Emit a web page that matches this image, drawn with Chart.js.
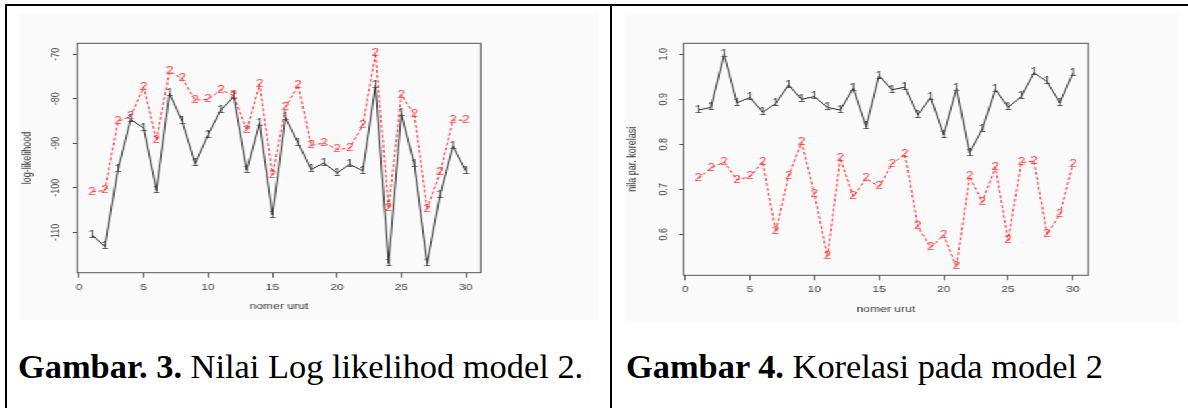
<!DOCTYPE html>
<html>
<head>
<meta charset="utf-8">
<script src="https://cdn.jsdelivr.net/npm/chart.js@4.4.1/dist/chart.umd.min.js"></script>
<style>
  html, body { margin: 0; padding: 0; background: #fff; }
  body { position: relative; width: 1188px; height: 408px; overflow: hidden; }
  .rule { position: absolute; background: #000; }
  .fig { position: absolute; background: #fafafa; transform-origin: 0 0; transform: scaleX(1.35); }
  .fig canvas { display: block; }
  .cap { position: absolute; font-family: "Liberation Serif", "Times New Roman", serif; font-size: 34.4px; line-height: 1; color: #000; white-space: nowrap; }
  .cap b { font-weight: bold; }
</style>
</head>
<body>
<div class="rule" style="left:5px;top:4px;width:1183px;height:2px"></div>
<div class="rule" style="left:5px;top:4px;width:2px;height:404px"></div>
<div class="rule" style="left:610px;top:4px;width:2px;height:404px"></div>

<div class="fig" style="left:20px;top:13px;width:428px;height:307px"><canvas id="chartLL" width="428" height="307"></canvas></div>
<div class="fig" style="left:625px;top:13px;width:410px;height:310px"><canvas id="chartKor" width="410" height="310"></canvas></div>

<div class="cap" style="left:18px;top:349px"><b>Gambar. 3.</b> Nilai Log likelihod model 2.</div>
<div class="cap" style="left:626px;top:349px"><b>Gambar 4.</b> Korelasi pada model 2</div>

<script>
// nomer urut (x axis)
const nomerUrut = [1, 2, 3, 4, 5, 6, 7, 8, 9, 10, 11, 12, 13, 14, 15, 16, 17, 18, 19, 20, 21, 22, 23, 24, 25, 26, 27, 28, 29, 30];
const xTicks = [0, 5, 10, 15, 20, 25, 30];

// Gambar 3 - log likelihood
const logLik1 = [-110.6, -113.2, -95.9, -84.6, -86.6, -100.6, -78.8, -85.1, -94.5, -88.1,
  -82.5, -79.5, -96.0, -85.4, -106.1, -84.2, -90.0, -95.9, -94.4, -96.7,
  -94.7, -96.2, -76.9, -117.0, -83.3, -94.7, -117.0, -101.6, -90.6, -96.2];
const logLik2 = [-100.9, -100.6, -85.1, -83.9, -77.4, -89.3, -73.9, -75.4, -80.3, -80.1,
  -78.0, -79.3, -87.0, -76.7, -97.1, -81.9, -77.0, -90.5, -89.9, -91.4,
  -91.1, -85.9, -69.8, -104.6, -79.1, -83.5, -104.8, -96.6, -84.8, -84.8];
const llTicks = [-110, -100, -90, -80, -70];
const llTickLabels = ["-110", "-100", "-90", "-80", "-70"];

// Gambar 4 - korelasi
const korelasi1 = [0.876, 0.882, 1.000, 0.892, 0.904, 0.871, 0.891, 0.932, 0.900, 0.906,
  0.882, 0.876, 0.924, 0.839, 0.952, 0.921, 0.927, 0.865, 0.904, 0.821,
  0.924, 0.781, 0.834, 0.922, 0.882, 0.906, 0.959, 0.939, 0.892, 0.958];
const korelasi2 = [0.724, 0.747, 0.761, 0.721, 0.728, 0.761, 0.606, 0.730, 0.804, 0.689,
  0.552, 0.769, 0.684, 0.724, 0.706, 0.756, 0.778, 0.617, 0.571, 0.598,
  0.528, 0.728, 0.672, 0.749, 0.586, 0.759, 0.763, 0.600, 0.644, 0.756];
const korTicks = [0.6, 0.7, 0.8, 0.9, 1.0];
const korTickLabels = ["0.6", "0.7", "0.8", "0.9", "1.0"];

const sansFont = '"Liberation Sans", Arial, sans-serif';

// R style: digits as point symbols + box around the plot region
const rPlotPlugin = {
  id: "rPlot",
  afterDatasetsDraw(chart) {
    const ctx = chart.ctx;
    chart.data.datasets.forEach((ds, i) => {
      const meta = chart.getDatasetMeta(i);
      ctx.save();
      ctx.font = "10px " + sansFont;
      ctx.fillStyle = ds.symbolColor;
      ctx.textAlign = "center";
      ctx.textBaseline = "middle";
      meta.data.forEach((p) => ctx.fillText(ds.symbol, p.x, p.y));
      ctx.restore();
    });
    const a = chart.chartArea;
    ctx.save();
    ctx.strokeStyle = "#555";
    ctx.lineWidth = 1;
    ctx.strokeRect(a.left, a.top, a.right - a.left, a.bottom - a.top);
    ctx.restore();
  },
};

function toPoints(vals) {
  return nomerUrut.map((n, i) => ({ x: n, y: vals[i] }));
}

function makeChart(id, opt) {
  const canvas = document.getElementById(id);
  const W = canvas.width, H = canvas.height;
  return new Chart(canvas.getContext("2d"), {
    type: "line",
    data: {
      datasets: [
        {
          data: toPoints(opt.s1),
          borderColor: "#111",
          borderWidth: 0.9,
          pointRadius: 0,
          tension: 0,
          symbol: "1",
          symbolColor: "#444",
        },
        {
          data: toPoints(opt.s2),
          borderColor: "#ff1a1a",
          borderWidth: 0.9,
          borderDash: [3, 2],
          pointRadius: 0,
          tension: 0,
          symbol: "2",
          symbolColor: "rgba(255,30,30,0.85)",
        },
      ],
    },
    options: {
      responsive: false,
      animation: false,
      devicePixelRatio: 1,
      layout: { padding: { left: 0, right: W - opt.plotRight, top: opt.plotTop, bottom: 0 } },
      plugins: { legend: { display: false }, tooltip: { enabled: false } },
      scales: {
        x: {
          type: "linear",
          min: opt.xMin,
          max: opt.xMax,
          afterBuildTicks: (s) => { s.ticks = xTicks.map((v) => ({ value: v })); },
          afterFit: (s) => { s.height = H - opt.plotBottom; },
          grid: { drawOnChartArea: false, drawTicks: true, tickLength: 5, color: "#555" },
          border: { display: false },
          ticks: {
            autoSkip: false, maxRotation: 0, padding: 4, color: "#444",
            font: { family: sansFont, size: 9 },
            callback: (v) => String(v),
          },
          title: {
            display: true, text: "nomer urut", color: "#333",
            font: { family: sansFont, size: 9 }, padding: { top: 0, bottom: 8 },
          },
        },
        y: {
          type: "linear",
          min: opt.yMin,
          max: opt.yMax,
          afterBuildTicks: (s) => { s.ticks = opt.yTicks.map((v) => ({ value: v })); },
          afterFit: (s) => { s.width = opt.plotLeft; },
          grid: { drawOnChartArea: false, drawTicks: true, tickLength: 3.4, color: "#555" },
          border: { display: false },
          ticks: {
            autoSkip: false, minRotation: 90, maxRotation: 90, crossAlign: "center",
            padding: opt.yPad, color: "#444",
            font: { family: sansFont, size: 9 },
            callback: (v, i) => opt.yLabels[i],
          },
          title: {
            display: true, text: opt.yTitle, color: "#333",
            font: { family: sansFont, size: 9 }, padding: { top: 0, bottom: 0 },
          },
        },
      },
    },
    plugins: [rPlotPlugin],
  });
}

makeChart("chartLL", {
  s1: logLik1, s2: logLik2,
  yTicks: llTicks, yLabels: llTickLabels, yTitle: "log-likelihood",
  yMin: -119.07, yMax: -67.53, xMin: -0.15, xMax: 31.16,
  plotLeft: 42.4, plotRight: 341.3, plotTop: 30.3, plotBottom: 259.7, yPad: 3,
});

makeChart("chartKor", {
  s1: korelasi1, s2: korelasi2,
  yTicks: korTicks, yLabels: korTickLabels, yTitle: "nila par. korelasi",
  yMin: 0.5089, yMax: 1.0244, xMin: -0.12, xMax: 31.2,
  plotLeft: 43.5, plotRight: 343.2, plotTop: 30.3, plotBottom: 262.3, yPad: 5.5,
});
</script>
</body>
</html>
